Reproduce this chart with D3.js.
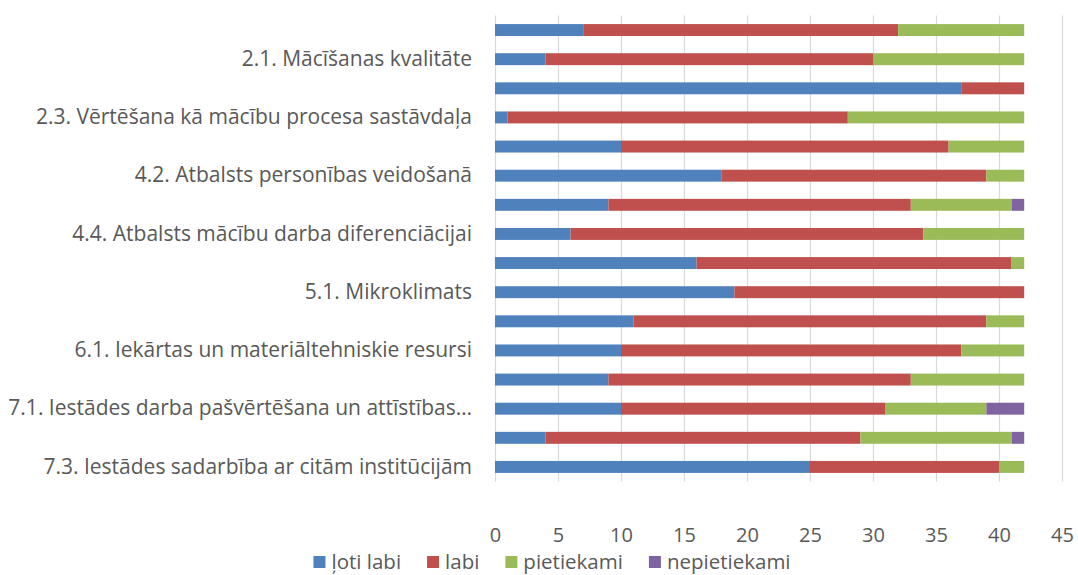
<!DOCTYPE html>
<html>
<head>
<meta charset="utf-8">
<script src="https://cdn.jsdelivr.net/npm/d3@7"></script>
<style>
  body { margin: 0; background: #fff; }
  text { font-family: "Open Sans", sans-serif; fill: #595959; }
</style>
</head>
<body>
<div id="chart"></div>
<script>
// categories, top to bottom (only every other label is shown in the chart)
var categories = [
  "1. Mācību saturs",
  "2.1. Mācīšanas kvalitāte",
  "2.2. Mācīšanās kvalitāte",
  "2.3. Vērtēšana kā mācību procesa sastāvdaļa",
  "4.1. Psiholoģiskais atbalsts",
  "4.2. Atbalsts personības veidošanā",
  "4.3. Atbalsts karjeras izglītībā",
  "4.4. Atbalsts mācību darba diferenciācijai",
  "4.5. Atbalsts izglītojamajiem ar speciālām vajadzībām",
  "5.1. Mikroklimats",
  "5.2. Fiziskā vide",
  "6.1. Iekārtas un materiāltehniskie resursi",
  "6.2. Personālresursi",
  "7.1. Iestādes darba pašvērtēšana un attīstības…",
  "7.2. Iestādes darba vadība un personāla pārvaldība",
  "7.3. Iestādes sadarbība ar citām institūcijām"
];

var seriesNames = ["ļoti labi", "labi", "pietiekami", "nepietiekami"];
var seriesColors = ["#4F81BD", "#C0504D", "#9BBB59", "#8064A2"];

// values per category
var lotiLabi     = [7, 4, 37, 1, 10, 18, 9, 6, 16, 19, 11, 10, 9, 10, 4, 25];
var labi         = [25, 26, 5, 27, 26, 21, 24, 28, 25, 23, 28, 27, 24, 21, 25, 15];
var pietiekami   = [10, 12, 0, 14, 6, 3, 8, 8, 1, 0, 3, 5, 9, 8, 12, 2];
var nepietiekami = [0, 0, 0, 0, 0, 0, 1, 0, 0, 0, 0, 0, 0, 3, 1, 0];

var xTicks = [0, 5, 10, 15, 20, 25, 30, 35, 40, 45];

var width = 1078;
var height = 575;

var svg = d3.select("#chart").append("svg")
  .attr("width", width)
  .attr("height", height);

// build rows for the stack
var rows = categories.map(function(c, i) {
  return {
    cat: c,
    "ļoti labi": lotiLabi[i],
    "labi": labi[i],
    "pietiekami": pietiekami[i],
    "nepietiekami": nepietiekami[i]
  };
});

var stacked = d3.stack().keys(seriesNames)(rows);

var x = d3.scaleLinear()
  .domain([0, 45])
  .range([495, 1062]);

var y = d3.scaleBand()
  .domain(categories)
  .range([15.5, 481.5])
  .paddingInner(0.59)
  .paddingOuter(0.295);

var color = d3.scaleOrdinal().domain(seriesNames).range(seriesColors);

// gridlines
svg.append("g")
  .selectAll("line")
  .data(xTicks)
  .join("line")
  .attr("x1", function(d) { return Math.round(x(d)) + 0.5; })
  .attr("x2", function(d) { return Math.round(x(d)) + 0.5; })
  .attr("y1", 15.5)
  .attr("y2", 481.5)
  .attr("stroke", "#d9d9d9")
  .attr("stroke-width", 1.2);

// bars
svg.append("g")
  .selectAll("g")
  .data(stacked)
  .join("g")
  .attr("fill", function(d) { return color(d.key); })
  .selectAll("rect")
  .data(function(d) { return d; })
  .join("rect")
  .attr("x", function(d) { return x(d[0]); })
  .attr("y", function(d) { return y(d.data.cat); })
  .attr("width", function(d) { return x(d[1]) - x(d[0]); })
  .attr("height", y.bandwidth());

// x axis labels
var xAxis = d3.axisBottom(x).tickValues(xTicks).tickSize(0).tickPadding(0);
var gx = svg.append("g")
  .attr("transform", "translate(0,528)")
  .call(xAxis);
gx.select(".domain").remove();
gx.selectAll("text")
  .attr("fill", "#595959")
  .style("font-size", "20px")
  .style("font-family", "'Open Sans', sans-serif");

// category labels (every other one is shown)
var yAxis = d3.axisLeft(y)
  .tickSize(0)
  .tickPadding(0)
  .tickFormat(function(d, i) { return i % 2 === 1 ? d : ""; });
var gy = svg.append("g")
  .attr("transform", "translate(472,0)")
  .call(yAxis);
gy.select(".domain").remove();
gy.selectAll("text")
  .attr("fill", "#595959")
  .style("font-size", "21px")
  .style("font-family", "'Open Sans', sans-serif");

// legend, centred under the plot
var legendY = 562;
var legend = svg.append("g");
var lx = 0;
seriesNames.forEach(function(name, i) {
  var item = legend.append("g").attr("transform", "translate(" + lx + ",0)");
  item.append("rect")
    .attr("x", 0)
    .attr("y", -6)
    .attr("width", 12)
    .attr("height", 12)
    .attr("fill", seriesColors[i]);
  var t = item.append("text")
    .attr("x", 18)
    .attr("dy", "0.35em")
    .style("font-size", "20.5px")
    .text(name);
  lx += 18 + t.node().getComputedTextLength() + (i < seriesNames.length - 1 ? 26 : 0);
});
legend.attr("transform", "translate(" + (552 - lx / 2) + "," + legendY + ")");
</script>
</body>
</html>
